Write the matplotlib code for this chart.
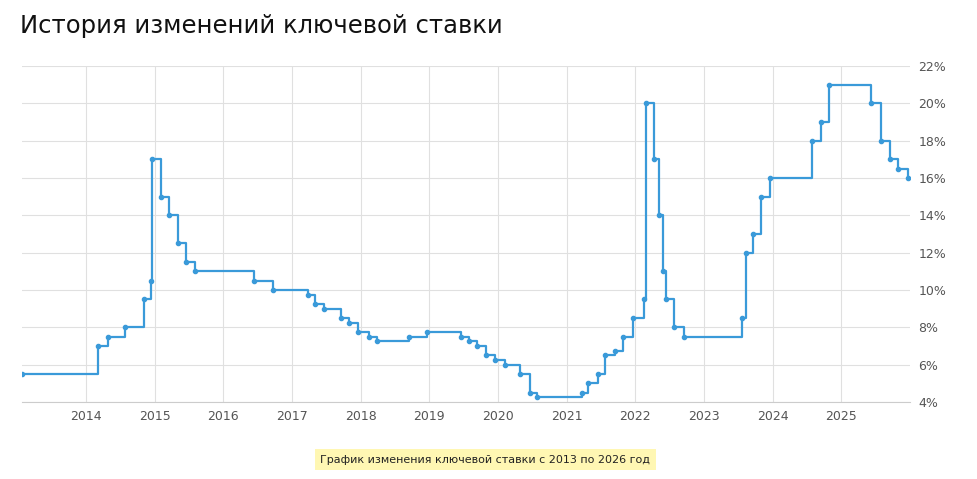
import matplotlib
matplotlib.use("Agg")
import matplotlib.pyplot as plt
import datetime as dt

dates = ["2013-01-25","2014-03-03","2014-04-28","2014-07-28","2014-11-05","2014-12-12","2014-12-16",
"2015-02-02","2015-03-16","2015-05-05","2015-06-16","2015-08-03","2016-06-14","2016-09-19",
"2017-03-27","2017-05-02","2017-06-19","2017-09-18","2017-10-30","2017-12-18","2018-02-12",
"2018-03-26","2018-09-17","2018-12-17","2019-06-17","2019-07-29","2019-09-09","2019-10-28",
"2019-12-16","2020-02-10","2020-04-27","2020-06-22","2020-07-27","2021-03-22","2021-04-26",
"2021-06-15","2021-07-26","2021-09-13","2021-10-25","2021-12-20","2022-02-14","2022-02-28",
"2022-04-11","2022-05-04","2022-05-27","2022-06-14","2022-07-25","2022-09-19","2023-07-24",
"2023-08-15","2023-09-18","2023-10-30","2023-12-18","2024-07-29","2024-09-16","2024-10-28",
"2025-06-09","2025-07-28","2025-09-15","2025-10-27","2025-12-22"]
rates = [5.5,7.0,7.5,8.0,9.5,10.5,17.0,15.0,14.0,12.5,11.5,11.0,10.5,10.0,9.75,9.25,9.0,8.5,8.25,
7.75,7.5,7.25,7.5,7.75,7.5,7.25,7.0,6.5,6.25,6.0,5.5,4.5,4.25,4.5,5.0,5.5,6.5,6.75,7.5,8.5,
9.5,20.0,17.0,14.0,11.0,9.5,8.0,7.5,8.5,12.0,13.0,15.0,16.0,18.0,19.0,21.0,20.0,18.0,17.0,16.5,16.0]
years = list(range(2014, 2026))
yticks = list(range(4, 23, 2))

x = [dt.datetime.strptime(d, "%Y-%m-%d") for d in dates]
fig = plt.figure(figsize=(9.78, 4.79), dpi=100)
ax = fig.add_axes([0.0225, 0.161, 0.908, 0.701])
color = "#3a9ad9"
ax.step(x, rates, where="post", color=color, lw=1.6)
ax.plot(x, rates, "o", color=color, ms=3)
ax.set_xlim(x[0], dt.datetime(2026, 1, 1))
ax.set_ylim(4, 22)
ax.set_yticks(yticks)
ax.set_yticklabels([f"{v}%" for v in yticks])
ax.yaxis.tick_right()
ax.set_xticks([dt.datetime(y, 1, 1) for y in years])
ax.set_xticklabels([str(y) for y in years])
ax.tick_params(length=0, labelsize=9, colors="#555555", pad=6)
ax.grid(True, color="#e0e0e0", lw=0.8)
for s in ax.spines.values():
    s.set_visible(False)
ax.spines["bottom"].set_visible(True)
ax.spines["bottom"].set_color("#cccccc")
fig.text(0.02, 0.945, "История изменений ключевой ставки", fontsize=17.5, color="#111111",
         va="center")
fig.text(0.496, 0.04, "График изменения ключевой ставки с 2013 по 2026 год", fontsize=8,
         color="#222222", ha="center", va="center",
         bbox=dict(facecolor="#fff7b3", edgecolor="none", pad=4))
fig.savefig("out.png", dpi=100)
